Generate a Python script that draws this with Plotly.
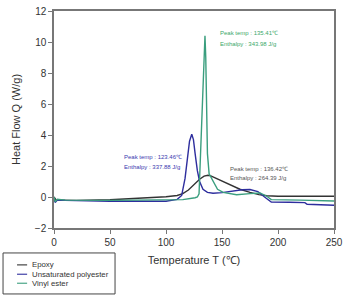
import plotly.graph_objects as go

# Epoxy
epoxy_T = [0, 1, 2, 5, 20, 50, 80, 100, 110, 115, 120, 125, 130, 134, 137.5, 140, 145, 150, 160, 166, 175, 183, 190, 200, 250]
epoxy_Q = [0, -0.1, -0.2, -0.2, -0.22, -0.18, -0.08, 0.02, 0.1, 0.22, 0.45, 0.8, 1.15, 1.35, 1.4, 1.36, 1.2, 1.0, 0.7, 0.5, 0.3, 0.15, 0.08, 0.05, 0.05]

# Unsaturated polyester
upe_T = [0, 1, 3, 10, 50, 100, 110, 114, 117, 119, 121, 123, 124.5, 126, 128, 130, 133, 137, 142, 150, 160, 168, 175, 182, 188, 194, 210, 224, 226, 250]
upe_Q = [-0.1, -0.35, -0.2, -0.22, -0.27, -0.27, -0.15, 0.1, 1.2, 2.5, 3.6, 4.05, 3.7, 2.8, 1.7, 1.0, 0.5, 0.3, 0.24, 0.28, 0.38, 0.47, 0.48, 0.35, 0.0, -0.32, -0.34, -0.36, -0.47, -0.53]

# Vinyl ester
ve_T = [0, 1, 3, 10, 50, 100, 115, 126, 128, 129.5, 131, 133, 134.8, 135.5, 137, 138.5, 140, 143, 146, 151, 163, 175, 184, 190, 194, 220, 250]
ve_Q = [0, -0.3, -0.15, -0.2, -0.22, -0.2, -0.17, -0.05, 0.0, 0.2, 2.8, 7.0, 10.4, 9.0, 2.8, 1.5, 1.3, 0.8, 0.5, 0.3, 0.15, 0.22, 0.26, 0.05, -0.17, -0.2, -0.26]

series_names = ["Epoxy", "Unsaturated polyester", "Vinyl ester"]
series_colors = ["#333333", "#2e2e9e", "#3a9e7e"]
series_T = [epoxy_T, upe_T, ve_T]
series_Q = [epoxy_Q, upe_Q, ve_Q]

x_ticks = [0, 50, 100, 150, 200, 250]
y_ticks = [-2, 0, 2, 4, 6, 8, 10, 12]

FONT = "Liberation Sans, Arial"

fig = go.Figure()
for name, color, T, Q in zip(series_names, series_colors, series_T, series_Q):
    fig.add_trace(go.Scatter(x=T, y=Q, mode="lines", name=name,
                             line=dict(color=color, width=1.4), showlegend=False))

ann_font = dict(family=FONT, size=6)
annotations = [
    dict(x=146, y=10.6, text="Peak temp : 135.41℃", font=dict(ann_font, color="#3aa86a")),
    dict(x=146, y=9.85, text="Enthalpy : 343.98 J/g", font=dict(ann_font, color="#3aa86a")),
    dict(x=61, y=2.55, text="Peak temp : 123.46℃", font=dict(ann_font, color="#3a3ab0")),
    dict(x=61, y=1.95, text="Enthalpy : 337.88 J/g", font=dict(ann_font, color="#3a3ab0")),
    dict(x=155, y=1.8, text="Peak temp : 136.42℃", font=dict(ann_font, color="#555555")),
    dict(x=155, y=1.2, text="Enthalpy : 264.39 J/g", font=dict(ann_font, color="#555555")),
]
for a in annotations:
    a.update(xref="x", yref="y", showarrow=False, xanchor="left", yanchor="middle")

# Manual legend box (paper coordinates)
shapes = [dict(type="rect", xref="paper", yref="paper", x0=-0.182, x1=0.218,
               y0=-0.304, y1=-0.115, line=dict(color="#444444", width=1),
               fillcolor="white")]
legend_y = [-0.170, -0.213, -0.2545]
for name, color, ly in zip(series_names, series_colors, legend_y):
    shapes.append(dict(type="line", xref="paper", yref="paper", x0=-0.132, x1=-0.096,
                       y0=ly, y1=ly, line=dict(color=color, width=1.1)))
    annotations.append(dict(xref="paper", yref="paper", x=-0.086, y=ly, text=name,
                            showarrow=False, xanchor="left", yanchor="middle",
                            font=dict(family=FONT, size=7.8, color="#333333")))

axis_common = dict(showline=True, linecolor="#777777", linewidth=1.5, mirror=True,
                   ticks="outside", ticklen=4, tickcolor="#777777", showgrid=False,
                   zeroline=False, automargin=False,
                   tickfont=dict(family=FONT, size=10, color="#333333"))

fig.update_layout(
    width=344, height=297,
    margin=dict(l=54, r=10, t=11, b=69),
    plot_bgcolor="white", paper_bgcolor="white",
    xaxis=dict(axis_common, range=[0, 250], tickvals=x_ticks,
               title=dict(text="Temperature T (℃)", standoff=10,
                          font=dict(family=FONT, size=11, color="#333333"))),
    yaxis=dict(axis_common, range=[-2, 12], tickvals=y_ticks,
               title=dict(text="Heat Flow Q (W/g)", standoff=12,
                          font=dict(family=FONT, size=11, color="#333333"))),
    annotations=annotations,
    shapes=shapes,
    showlegend=False,
)

fig.write_html("out.html")
